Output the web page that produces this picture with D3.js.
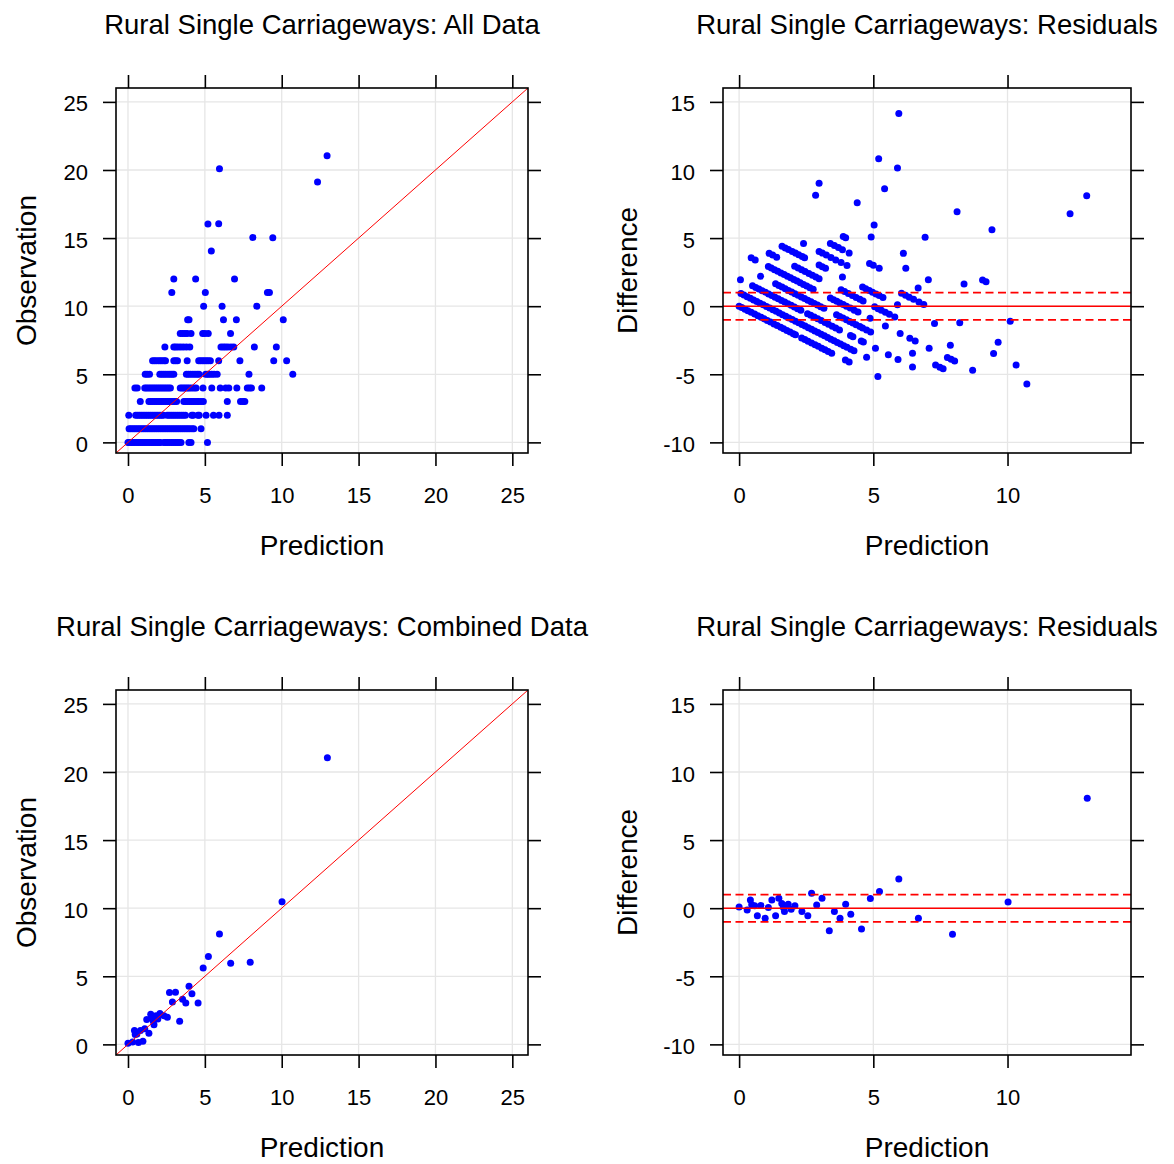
<!DOCTYPE html>
<html>
<head>
<meta charset="utf-8">
<script src="https://cdn.jsdelivr.net/npm/d3@7"></script>
<style>
  body { margin: 0; background: #fff; }
</style>
</head>
<body>
<svg id="chart" width="1174" height="1164"></svg>
<script>
// ---- data ----
// All data: predictions grouped by observed count
var obsLevels = [0, 1, 2, 3, 4, 5, 6, 7, 8, 9, 10, 11, 12];
var predObs0 = [0.0, 0.1, 0.22, 0.33, 0.45, 0.58, 0.7, 0.82, 0.93, 1.05, 1.17, 1.3, 1.42, 1.55, 1.66, 1.78, 1.9, 2.02, 2.1, 2.33, 2.45, 2.57, 2.7, 2.83, 2.95, 3.08, 3.2, 3.32, 3.45, 3.96, 4.1, 5.17];
var predObs1 = [0.07, 0.18, 0.3, 0.42, 0.54, 0.66, 0.78, 0.9, 1.02, 1.14, 1.26, 1.38, 1.5, 1.62, 1.74, 1.86, 1.98, 2.1, 2.22, 2.34, 2.46, 2.58, 2.7, 2.82, 2.94, 3.06, 3.18, 3.3, 3.42, 3.54, 3.66, 3.78, 3.9, 4.02, 4.16, 4.28, 4.75];
var predObs2 = [0.05, 0.5, 0.62, 0.74, 0.86, 0.98, 1.1, 1.22, 1.34, 1.46, 1.58, 1.7, 1.82, 1.94, 2.06, 2.18, 2.3, 2.55, 2.67, 2.8, 2.93, 3.06, 3.2, 3.33, 3.47, 3.6, 3.74, 4.15, 4.24, 4.55, 4.63, 5.08, 5.56, 5.92, 6.46];
var predObs3 = [0.8, 1.36, 1.48, 1.6, 1.72, 1.84, 1.96, 2.08, 2.2, 2.32, 2.44, 2.56, 2.68, 2.8, 2.92, 3.04, 3.16, 3.63, 3.75, 3.87, 4.0, 4.12, 4.24, 4.36, 4.5, 4.6, 4.75, 4.9, 6.46, 7.32, 7.48, 7.6];
var predObs4 = [0.45, 0.6, 1.09, 1.2, 1.32, 1.44, 1.56, 1.68, 1.8, 1.92, 2.04, 2.16, 2.28, 2.4, 2.52, 2.64, 2.76, 3.4, 3.52, 3.64, 3.76, 3.88, 4.0, 4.14, 4.29, 4.43, 4.88, 5.45, 6.0, 6.36, 6.56, 7.08, 7.76, 7.9, 8.03, 8.7];
var predObs5 = [1.12, 1.25, 1.4, 2.07, 2.2, 2.33, 2.46, 2.6, 2.73, 2.86, 2.98, 3.8, 3.93, 4.07, 4.22, 4.36, 4.5, 4.62, 5.05, 5.18, 5.3, 5.45, 5.6, 5.8, 7.87, 10.72];
var predObs6 = [1.6, 1.72, 1.84, 1.98, 2.1, 2.22, 2.35, 2.44, 2.98, 3.1, 3.22, 3.85, 4.6, 4.72, 4.85, 4.97, 5.1, 5.22, 5.36, 5.9, 7.28, 9.48, 10.32];
var predObs7 = [2.4, 2.98, 3.1, 3.25, 3.42, 3.6, 3.8, 4.02, 6.05, 6.2, 6.34, 6.5, 6.7, 6.88, 8.22, 9.65];
var predObs8 = [3.4, 3.55, 3.7, 3.85, 4.1, 4.86, 5.0, 5.22, 6.67];
var predObs9 = [3.88, 3.97, 6.21, 7.05, 10.1];
var predObs10 = [4.92, 6.12, 8.38];
var predObs11 = [2.85, 5.03, 9.07, 9.2];
var predObs12 = [2.98, 4.4, 6.93];
var predByLevel = [predObs0, predObs1, predObs2, predObs3, predObs4, predObs5, predObs6,
  predObs7, predObs8, predObs9, predObs10, predObs11, predObs12];
// the few high observations
var highPred = [5.42, 8.12, 9.42, 5.2, 5.9, 12.33, 5.95, 12.95];
var highObs = [14.05, 15.05, 15.03, 16.03, 16.05, 19.12, 20.1, 21.05];

// Combined data
var combPred = [0.0, 0.3, 0.42, 0.47, 0.58, 0.68, 0.81, 0.97, 1.09, 1.22, 1.36, 1.48, 1.59, 1.65, 1.69, 1.77, 1.83, 1.94, 2.08, 2.34, 2.56, 2.7, 2.89, 3.09, 3.36, 3.55, 3.76, 3.97, 4.16, 4.56, 4.89, 5.23, 5.95, 6.68, 7.95, 10.02, 12.97];
var combObs = [0.08, 0.17, 1.02, 0.72, 0.76, 0.13, 1.01, 0.23, 1.14, 1.82, 0.81, 2.21, 1.94, 1.7, 1.45, 1.94, 2.11, 1.87, 2.26, 2.1, 2.0, 3.8, 3.12, 3.82, 1.7, 3.31, 3.03, 4.26, 3.71, 3.04, 5.61, 6.45, 8.1, 5.95, 6.03, 10.47, 21.04];

var panelTitles = [
  'Rural Single Carriageways: All Data',
  'Rural Single Carriageways: Residuals',
  'Rural Single Carriageways: Combined Data',
  'Rural Single Carriageways: Residuals'
];
var obsTicks = [0, 5, 10, 15, 20, 25];
var diffTicks = [-10, -5, 0, 5, 10, 15];
var residPredTicks = [0, 5, 10];
var bandLimits = [-1, 1];

var obsDomain = [-0.78, 26.02];
var residXDomain = [-0.6, 14.6];
var residYDomain = [-10.78, 16.02];

// ---- build point lists ----
var allPoints = [];
predByLevel.forEach(function(preds, i) {
  preds.forEach(function(p) { allPoints.push([p, obsLevels[i]]); });
});
highPred.forEach(function(p, i) { allPoints.push([p, highObs[i]]); });
var combPoints = combPred.map(function(p, i) { return [p, combObs[i]]; });

function residuals(points) {
  return points.map(function(d) { return [d[0], d[1] - d[0]]; });
}

var FONT = '"Liberation Sans", Arial, Helvetica, sans-serif';
var svg = d3.select('#chart');

// plain hyphen for negatives, like the original
function tickText(d) { return String(d); }

function styleAxis(sel) {
  sel.attr('font-size', 22).attr('font-family', FONT);
  sel.select('.domain').remove();
  sel.selectAll('.tick line').attr('stroke', '#000').attr('stroke-width', 1.6);
  sel.selectAll('.tick text').attr('fill', '#000');
}

function drawPanel(p) {
  var x = d3.scaleLinear().domain(p.xDom).range([p.left, p.right]);
  var y = d3.scaleLinear().domain(p.yDom).range([p.bottom, p.top]);
  var g = svg.append('g');

  // grid
  g.selectAll('line.gx').data(p.xTicks).enter().append('line')
    .attr('x1', function(d) { return x(d); }).attr('x2', function(d) { return x(d); })
    .attr('y1', p.top).attr('y2', p.bottom)
    .attr('stroke', '#e6e6e6').attr('stroke-width', 1.3);
  g.selectAll('line.gy').data(p.yTicks).enter().append('line')
    .attr('y1', function(d) { return y(d); }).attr('y2', function(d) { return y(d); })
    .attr('x1', p.left).attr('x2', p.right)
    .attr('stroke', '#e6e6e6').attr('stroke-width', 1.3);

  // points
  g.selectAll('circle').data(p.points).enter().append('circle')
    .attr('cx', function(d) { return x(d[0]); })
    .attr('cy', function(d) { return y(d[1]); })
    .attr('r', 3.5)
    .attr('fill', '#0000ff');

  // reference lines
  if (p.kind === 'fit') {
    g.append('line')
      .attr('x1', x(p.xDom[0])).attr('y1', y(p.xDom[0]))
      .attr('x2', x(p.xDom[1])).attr('y2', y(p.xDom[1]))
      .attr('stroke', '#ff0000').attr('stroke-width', 1);
  } else {
    g.append('line')
      .attr('x1', p.left).attr('x2', p.right)
      .attr('y1', y(0)).attr('y2', y(0))
      .attr('stroke', '#ff0000').attr('stroke-width', 1.5);
    g.selectAll('line.band').data(bandLimits).enter().append('line')
      .attr('x1', p.left).attr('x2', p.right)
      .attr('y1', function(d) { return y(d); }).attr('y2', function(d) { return y(d); })
      .attr('stroke', '#ff0000').attr('stroke-width', 1.8)
      .attr('stroke-dasharray', '8,4.5');
  }

  // box
  g.append('rect')
    .attr('x', p.left).attr('y', p.top)
    .attr('width', p.right - p.left).attr('height', p.bottom - p.top)
    .attr('fill', 'none').attr('stroke', '#000').attr('stroke-width', 1.6);

  // axes
  g.append('g').attr('transform', 'translate(0,' + p.bottom + ')')
    .call(d3.axisBottom(x).tickValues(p.xTicks).tickSize(13).tickPadding(21).tickFormat(tickText))
    .call(styleAxis);
  g.append('g').attr('transform', 'translate(0,' + p.top + ')')
    .call(d3.axisTop(x).tickValues(p.xTicks).tickSize(13).tickFormat(''))
    .call(styleAxis);
  var left = g.append('g').attr('transform', 'translate(' + p.left + ',0)')
    .call(d3.axisLeft(y).tickValues(p.yTicks).tickSize(13).tickPadding(15).tickFormat(tickText))
    .call(styleAxis);
  left.selectAll('.tick text').attr('dy', '0.41em');
  g.append('g').attr('transform', 'translate(' + p.right + ',0)')
    .call(d3.axisRight(y).tickValues(p.yTicks).tickSize(13).tickFormat(''))
    .call(styleAxis);

  // texts
  var cx = (p.left + p.right) / 2;
  g.append('text')
    .attr('x', cx).attr('y', p.top - 54)
    .attr('text-anchor', 'middle')
    .attr('font-family', FONT).attr('font-size', 27.5).attr('fill', '#000')
    .text(p.title);
  g.append('text')
    .attr('x', cx).attr('y', p.bottom + 102)
    .attr('text-anchor', 'middle')
    .attr('font-family', FONT).attr('font-size', 28).attr('fill', '#000')
    .text('Prediction');
  g.append('text')
    .attr('transform', 'translate(' + p.ylabX + ',' + ((p.top + p.bottom) / 2) + ') rotate(-90)')
    .attr('text-anchor', 'middle')
    .attr('font-family', FONT).attr('font-size', 28).attr('fill', '#000')
    .text(p.ylab);
}

var panels = [
  { left: 116, right: 528, top: 88, bottom: 453, title: panelTitles[0], kind: 'fit',
    xDom: obsDomain, yDom: obsDomain, xTicks: obsTicks, yTicks: obsTicks,
    ylab: 'Observation', ylabX: 36, points: allPoints },
  { left: 723, right: 1131, top: 88, bottom: 453, title: panelTitles[1], kind: 'resid',
    xDom: residXDomain, yDom: residYDomain, xTicks: residPredTicks, yTicks: diffTicks,
    ylab: 'Difference', ylabX: 637, points: residuals(allPoints) },
  { left: 116, right: 528, top: 690, bottom: 1055, title: panelTitles[2], kind: 'fit',
    xDom: obsDomain, yDom: obsDomain, xTicks: obsTicks, yTicks: obsTicks,
    ylab: 'Observation', ylabX: 36, points: combPoints },
  { left: 723, right: 1131, top: 690, bottom: 1055, title: panelTitles[3], kind: 'resid',
    xDom: residXDomain, yDom: residYDomain, xTicks: residPredTicks, yTicks: diffTicks,
    ylab: 'Difference', ylabX: 637, points: residuals(combPoints) }
];

panels.forEach(drawPanel);
</script>
</body>
</html>
